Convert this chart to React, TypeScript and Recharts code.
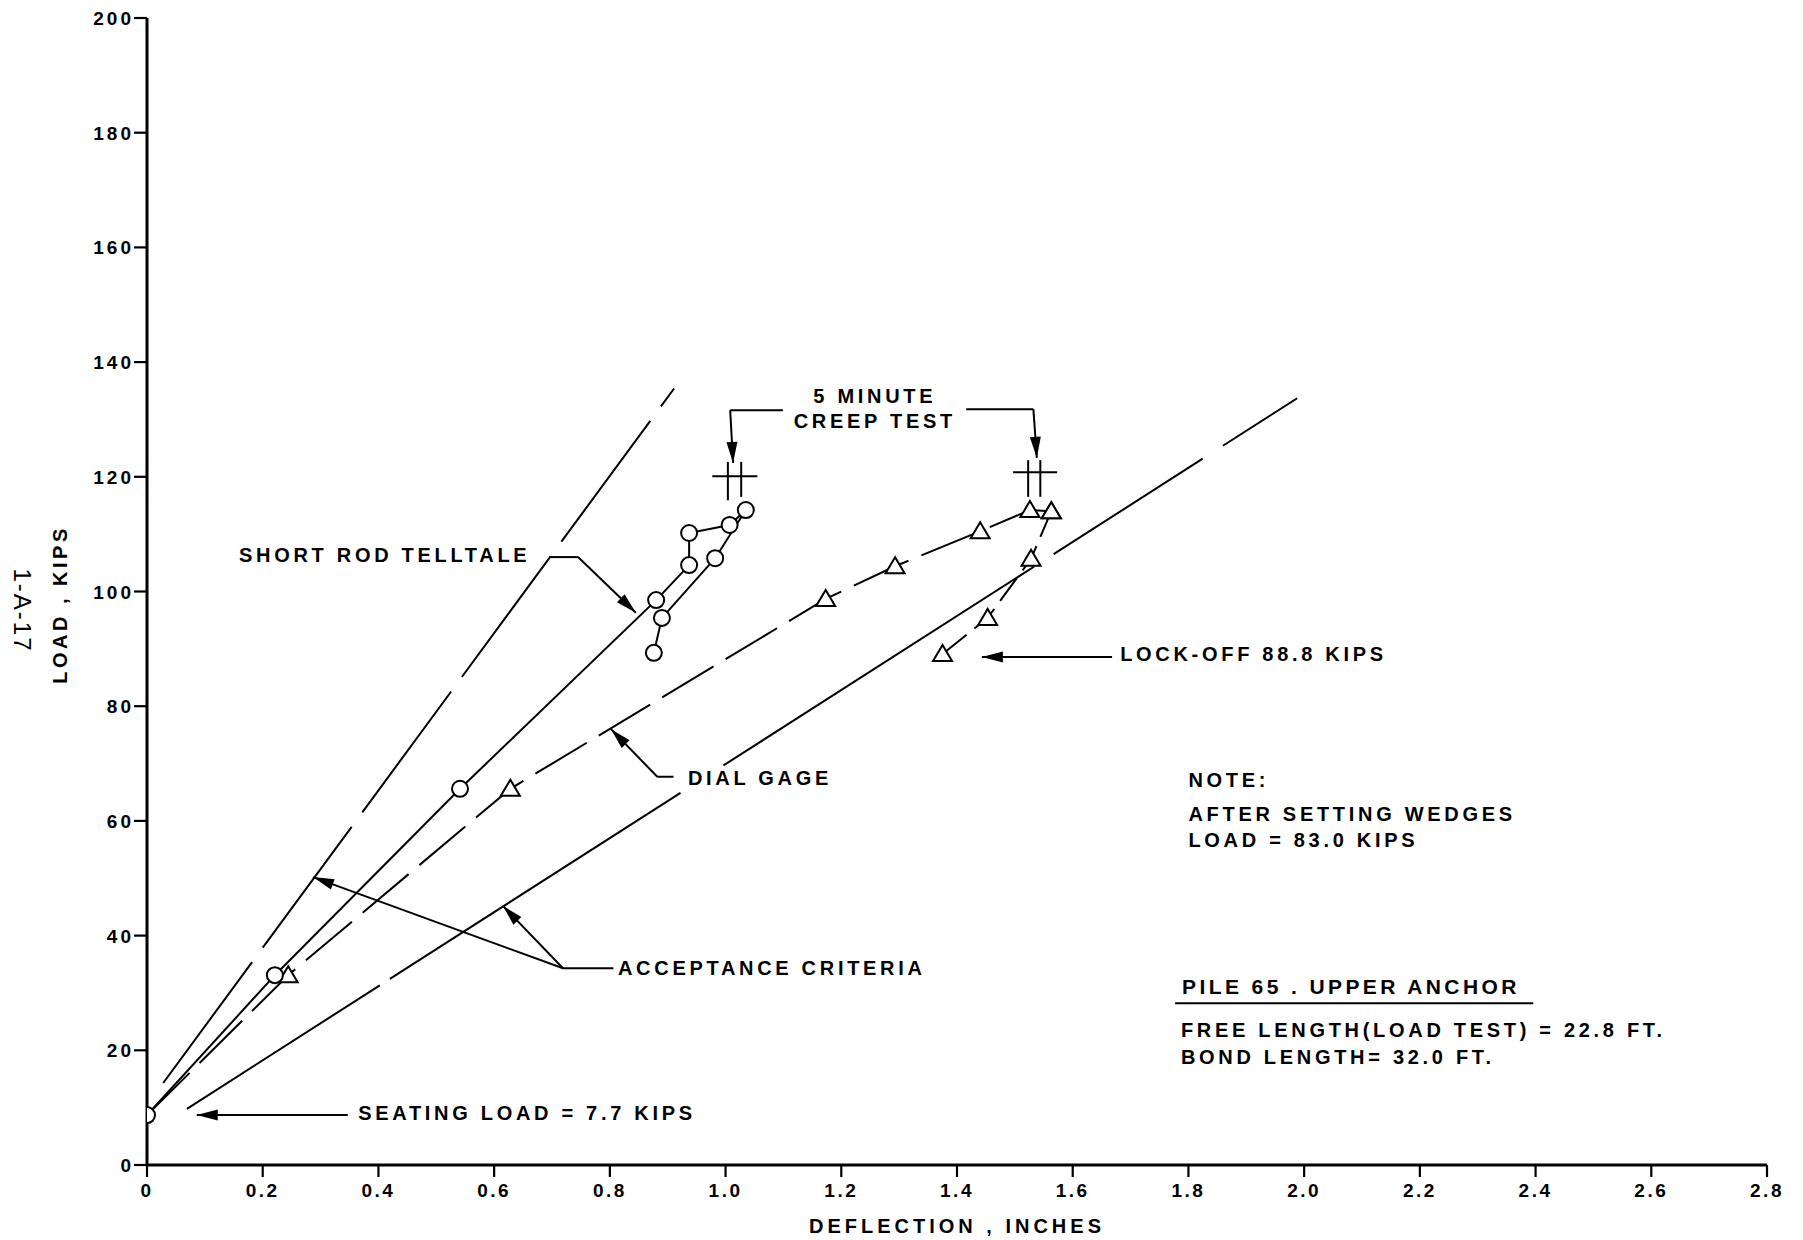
import React from 'react';
import {
  ComposedChart, Line, XAxis, YAxis, ReferenceLine, ReferenceDot,
} from 'recharts';

const xTicks = [0, 0.2, 0.4, 0.6, 0.8, 1.0, 1.2, 1.4, 1.6, 1.8, 2.0, 2.2, 2.4, 2.6, 2.8];
const yTicks = [0, 20, 40, 60, 80, 100, 120, 140, 160, 180, 200];

// short rod telltale (circles): loading, creep, then unloading to lock-off
const telltaleDefl = [0, 0.221, 0.541, 0.88, 0.937, 0.937, 1.007, 1.035, 0.982, 0.89, 0.876];
const telltaleLoad = [8.7, 33.1, 65.6, 98.5, 104.6, 110.2, 111.6, 114.2, 105.8, 95.4, 89.3];

// dial gage (triangles)
const dialDefl = [0, 0.244, 0.628, 1.173, 1.293, 1.44, 1.526, 1.563];
const dialLoad = [8.7, 33.1, 65.6, 98.7, 104.4, 110.5, 114.2, 114.0];
const unloadDefl = [1.563, 1.528, 1.453, 1.375];
const unloadLoad = [114.0, 105.7, 95.4, 89.1];

// acceptance criteria lines
const upperCritDefl = [0.028, 0.911];
const upperCritLoad = [14.3, 135.4];
const lowerCritDefl = [0.069, 1.988];
const lowerCritLoad = [9.8, 133.7];

const zip = (xs: number[], ys: number[]) => xs.map((x, i) => ({ x, y: ys[i] }));

// leader lines for the callouts, in data units
const leaders = [
  { a: [0.697, 106.0], b: [0.745, 106.0] },
  { a: [0.745, 106.0], b: [0.845, 96.3], arrow: true },
  { a: [0.91, 67.7], b: [0.882, 67.7] },
  { a: [0.882, 67.7], b: [0.802, 76.0], arrow: true },
  { a: [0.806, 34.3], b: [0.719, 34.3] },
  { a: [0.719, 34.3], b: [0.287, 50.2], arrow: true },
  { a: [0.719, 34.3], b: [0.615, 45.2], arrow: true },
  { a: [0.347, 8.7], b: [0.086, 8.7], arrow: true },
  { a: [1.668, 88.6], b: [1.443, 88.6], arrow: true },
  { a: [1.099, 131.6], b: [1.008, 131.6] },
  { a: [1.008, 131.6], b: [1.013, 122.4], arrow: true },
  { a: [1.416, 131.8], b: [1.532, 131.8] },
  { a: [1.532, 131.8], b: [1.538, 123.3], arrow: true },
  { a: [0.977, 120.1], b: [1.055, 120.1] },
  { a: [1.004, 122.6], b: [1.004, 115.9] },
  { a: [1.027, 122.6], b: [1.027, 116.5] },
  { a: [1.497, 120.8], b: [1.573, 120.8] },
  { a: [1.523, 122.9], b: [1.523, 116.5] },
  { a: [1.544, 122.9], b: [1.544, 116.5] },
  { a: [1.777, 28.2], b: [2.396, 28.2] },
];

const notes = [
  { x: 0.159, y: 105.1, text: 'SHORT ROD TELLTALE' },
  { x: 1.258, y: 132.9, text: '5 MINUTE', mid: true },
  { x: 1.258, y: 128.5, text: 'CREEP TEST', mid: true },
  { x: 0.935, y: 66.3, text: 'DIAL GAGE' },
  { x: 0.814, y: 33.1, text: 'ACCEPTANCE CRITERIA' },
  { x: 0.365, y: 7.85, text: 'SEATING LOAD = 7.7 KIPS' },
  { x: 1.682, y: 87.8, text: 'LOCK-OFF 88.8 KIPS' },
  { x: 1.8, y: 65.9, text: 'NOTE:' },
  { x: 1.8, y: 60.0, text: 'AFTER SETTING WEDGES' },
  { x: 1.8, y: 55.4, text: 'LOAD = 83.0 KIPS' },
  { x: 1.789, y: 29.9, text: 'PILE 65 . UPPER ANCHOR', big: true },
  { x: 1.787, y: 22.3, text: 'FREE LENGTH(LOAD TEST) = 22.8 FT.' },
  { x: 1.787, y: 17.6, text: 'BOND LENGTH= 32.0 FT.' },
];

const FONT = "'Liberation Sans', Arial, sans-serif";

const leaderShape = (arrow?: boolean) => (p: any) => {
  const { x1, y1, x2, y2 } = p;
  const dx = x2 - x1;
  const dy = y2 - y1;
  const len = Math.hypot(dx, dy) || 1;
  const ux = dx / len;
  const uy = dy / len;
  const bx = x2 - ux * 21;
  const by = y2 - uy * 21;
  return (
    <g>
      <line x1={x1} y1={y1} x2={x2} y2={y2} stroke="#000" strokeWidth={2} />
      {arrow && (
        <polygon
          points={`${x2},${y2} ${bx - uy * 5.5},${by + ux * 5.5} ${bx + uy * 5.5},${by - ux * 5.5}`}
          fill="#000"
        />
      )}
    </g>
  );
};

const CircleDot = (p: any) => (
  <circle key={`c${p.index}`} cx={p.cx} cy={p.cy} r={8} fill="#fff" stroke="#000" strokeWidth={2} />
);

const TriDot = (p: any) => {
  if (p.index === 0 && p.payload?.x === 0) return <g key={`t${p.index}`} />;
  const { cx, cy } = p;
  return (
    <polygon
      key={`t${p.index}`}
      points={`${cx},${cy - 9} ${cx - 9.5},${cy + 7} ${cx + 9.5},${cy + 7}`}
      fill="#fff" stroke="#000" strokeWidth={2}
    />
  );
};

const XTick = (p: any) => (
  <text x={p.x} y={p.y + 13} textAnchor="middle" fontSize={19} fontWeight={700}
    letterSpacing={2.5} fill="#000" fontFamily={FONT}>
    {p.payload.value === 0 ? '0' : p.payload.value.toFixed(1)}
  </text>
);

const YTick = (p: any) => (
  <text x={p.x + 2} y={p.y + 7} textAnchor="end" fontSize={19} fontWeight={700}
    letterSpacing={3} fill="#000" fontFamily={FONT}>
    {p.payload.value}
  </text>
);

const YTitle = (p: any) => {
  const vb = p.viewBox || { x: 0, y: 18, width: 147, height: 1147 };
  const cy = vb.y + vb.height / 2 + 13;
  const lx = vb.x + 67;
  const ix = vb.x + 14;
  return (
    <g fontFamily={FONT} fill="#000">
      <text x={lx} y={cy} textAnchor="middle" fontSize={20} fontWeight={700} letterSpacing={3.5}
        transform={`rotate(-90 ${lx} ${cy})`}>LOAD , KIPS</text>
      <text x={ix} y={cy + 6} textAnchor="middle" fontSize={24} letterSpacing={2}
        transform={`rotate(90 ${ix} ${cy + 6})`}>1-A-17</text>
    </g>
  );
};

const XTitle = (p: any) => {
  const vb = p.viewBox || { x: 147, y: 1165, width: 1620, height: 75 };
  return (
    <text x={vb.x + vb.width / 2} y={vb.y + 68} textAnchor="middle" fontSize={20} fontWeight={700}
      letterSpacing={4} fill="#000" fontFamily={FONT}>DEFLECTION , INCHES</text>
  );
};

export default function App() {
  return (
    <div style={{ position: 'absolute', left: 0, top: 0, background: '#fff', fontFamily: FONT }}>
      <ComposedChart width={1803} height={1240} margin={{ top: 18, right: 36, left: 0, bottom: 0 }}>
        <XAxis
          dataKey="x" type="number" domain={[0, 2.8]} ticks={xTicks} interval={0} allowDataOverflow
          height={75} tickSize={12} tickMargin={7} tick={XTick}
          axisLine={{ stroke: '#000', strokeWidth: 3 }} tickLine={{ stroke: '#000', strokeWidth: 2.2 }}
          label={XTitle}
        />
        <YAxis
          dataKey="y" type="number" domain={[0, 200]} ticks={yTicks} interval={0} allowDataOverflow
          width={147} tickSize={13} tickMargin={2} tick={YTick}
          axisLine={{ stroke: '#000', strokeWidth: 3 }} tickLine={{ stroke: '#000', strokeWidth: 2.2 }}
          label={YTitle}
        />

        <Line data={zip(upperCritDefl, upperCritLoad)} dataKey="y" type="linear" stroke="#000"
          strokeWidth={2} strokeDasharray="150 18" dot={false} isAnimationActive={false} />
        {/* gaps placed as in the drawing (one clears the DIAL GAGE text) */}
        <Line data={zip(lowerCritDefl, lowerCritLoad)} dataKey="y" type="linear" stroke="#000"
          strokeWidth={2} strokeDasharray="229 12 345 51 369 23 177 24 120" dot={false}
          isAnimationActive={false} />

        <Line data={zip(dialDefl, dialLoad)} dataKey="y" type="linear" stroke="#000"
          strokeWidth={2} strokeDasharray="60 14" dot={TriDot} isAnimationActive={false} />
        <Line data={zip(unloadDefl, unloadLoad)} dataKey="y" type="linear" stroke="#000"
          strokeWidth={2} strokeDasharray="28 10" dot={TriDot} isAnimationActive={false} />

        <Line data={zip(telltaleDefl, telltaleLoad)} dataKey="y" type="linear" stroke="#000"
          strokeWidth={2} dot={CircleDot} isAnimationActive={false} />

        {leaders.map((l, i) => (
          <ReferenceLine
            key={`l${i}`}
            segment={[{ x: l.a[0], y: l.a[1] }, { x: l.b[0], y: l.b[1] }]}
            shape={leaderShape(l.arrow)}
            ifOverflow="visible"
          />
        ))}

        {notes.map((n, i) => (
          <ReferenceDot
            key={`n${i}`}
            x={n.x} y={n.y} r={1}
            ifOverflow="visible"
            shape={(p: any) => (
              <text x={p.cx} y={p.cy} textAnchor={n.mid ? 'middle' : 'start'}
                fontSize={n.big ? 21 : 20} fontWeight={700} letterSpacing={n.big ? 3.4 : 3.7}
                fill="#000" fontFamily={FONT}>
                {n.text}
              </text>
            )}
          />
        ))}
      </ComposedChart>
    </div>
  );
}
